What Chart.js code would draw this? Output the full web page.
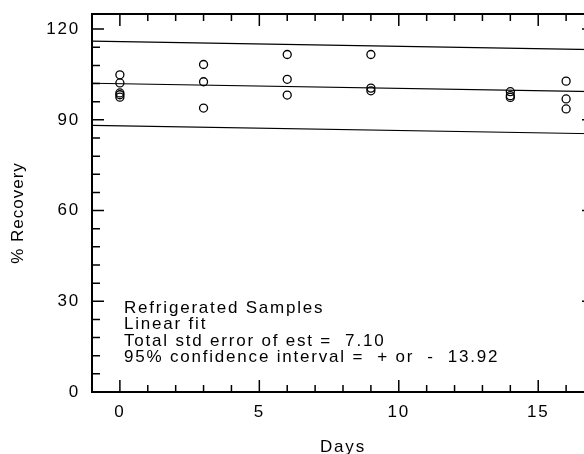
<!DOCTYPE html>
<html>
<head>
<meta charset="utf-8">
<script src="https://cdn.jsdelivr.net/npm/chart.js@4.4.1/dist/chart.umd.min.js"></script>
<style>
  html, body { margin: 0; padding: 0; background: #fff; overflow: hidden; }
  #wrap { width: 610px; height: 454px; }
</style>
</head>
<body>
<div id="wrap"><canvas id="recoveryChart" width="610" height="454"></canvas></div>
<script>
// Refrigerated samples - % recovery vs days

const sampleDays = [0, 0, 0, 0, 0, 3, 3, 3, 6, 6, 6, 9, 9, 9, 14, 14, 14, 16, 16, 16];
const sampleRecovery = [104.9, 102.2, 98.9, 98.3, 97.5, 108.3, 102.6, 93.9, 111.6, 103.4, 98.2,
    111.6, 100.5, 99.6, 99.3, 98.0, 97.4, 102.8, 96.9, 93.6];

// fitted line and +/- 95% band, end points at x = -1 and x = 17
const fitDays = [-1, 17];
const fitLine = [102.1, 99.3];
const upperLine = [116.0, 113.2];
const lowerLine = [88.2, 85.4];

const xTickLabels = [0, 5, 10, 15];
const yTickLabels = [0, 30, 60, 90, 120];

const noteLines = [
    'Refrigerated Samples',
    'Linear fit',
    'Total std error of est =  7.10',
    '95% confidence interval =  + or  -  13.92'
];

const FONT = '17px "Liberation Sans", Arial, sans-serif';

function toPoints(xs, ys) {
    return xs.map((x, i) => ({ x: x, y: ys[i] }));
}

// frame, inward ticks, labels and the note
const framePlugin = {
    id: 'frame',
    afterDraw(chart) {
        const ctx = chart.ctx;
        const xs = chart.scales.x;
        const ys = chart.scales.y;
        const a = chart.chartArea;
        ctx.save();
        ctx.strokeStyle = '#000';
        ctx.fillStyle = '#000';

        ctx.lineWidth = 2;
        ctx.strokeRect(a.left, a.top, a.right - a.left, a.bottom - a.top);

        ctx.lineWidth = 1.5;
        ctx.beginPath();
        for (let v = -1; v <= 17; v++) {
            const px = xs.getPixelForValue(v);
            const len = xTickLabels.includes(v) ? 12 : 7;
            ctx.moveTo(px, a.bottom); ctx.lineTo(px, a.bottom - len);
            ctx.moveTo(px, a.top); ctx.lineTo(px, a.top + len);
        }
        for (let v = 0; v <= 120; v += 6) {
            const py = ys.getPixelForValue(v);
            const len = yTickLabels.includes(v) ? 12 : 8;
            ctx.moveTo(a.left, py); ctx.lineTo(a.left + len, py);
            ctx.moveTo(a.right, py); ctx.lineTo(a.right - len, py);
        }
        ctx.stroke();

        ctx.font = FONT;
        ctx.letterSpacing = '1.8px';

        ctx.textAlign = 'right';
        ctx.textBaseline = 'middle';
        yTickLabels.forEach(v => {
            ctx.fillText(String(v), a.left - 12, ys.getPixelForValue(v));
        });

        ctx.textAlign = 'center';
        ctx.textBaseline = 'top';
        xTickLabels.forEach(v => {
            ctx.fillText(String(v), xs.getPixelForValue(v), a.bottom + 12);
        });

        ctx.textBaseline = 'middle';
        ctx.fillText('Days', (a.left + a.right) / 2, 447);

        ctx.save();
        ctx.letterSpacing = '1px';
        ctx.translate(18, 213);
        ctx.rotate(-Math.PI / 2);
        ctx.fillText('% Recovery', 0, 0);
        ctx.restore();

        ctx.textAlign = 'left';
        ctx.textBaseline = 'alphabetic';
        noteLines.forEach((t, i) => {
            ctx.fillText(t, a.left + 32, 313 + i * 16.3);
        });

        ctx.restore();
    }
};

document.addEventListener('DOMContentLoaded', () => {
    const canvas = document.getElementById('recoveryChart');
    const lineStyle = {
        showLine: true,
        borderColor: '#000',
        borderWidth: 1.2,
        pointRadius: 0,
        fill: false
    };

    new Chart(canvas.getContext('2d'), {
        type: 'scatter',
        data: {
            datasets: [
                {
                    label: 'Samples',
                    data: toPoints(sampleDays, sampleRecovery),
                    pointStyle: 'circle',
                    pointRadius: 4,
                    pointBorderWidth: 1.3,
                    pointBorderColor: '#000',
                    pointBackgroundColor: 'rgba(0,0,0,0)'
                },
                Object.assign({ label: 'Fit', data: toPoints(fitDays, fitLine) }, lineStyle),
                Object.assign({ label: 'Upper', data: toPoints(fitDays, upperLine) }, lineStyle),
                Object.assign({ label: 'Lower', data: toPoints(fitDays, lowerLine) }, lineStyle)
            ]
        },
        options: {
            responsive: false,
            animation: false,
            layout: { padding: { left: 92, top: 14, right: 16, bottom: 62 } },
            scales: {
                x: { type: 'linear', min: -1, max: 17, display: false },
                y: { type: 'linear', min: 0, max: 125, display: false }
            },
            plugins: {
                legend: { display: false },
                tooltip: { enabled: false }
            }
        },
        plugins: [framePlugin]
    });
});
</script>
</body>
</html>
